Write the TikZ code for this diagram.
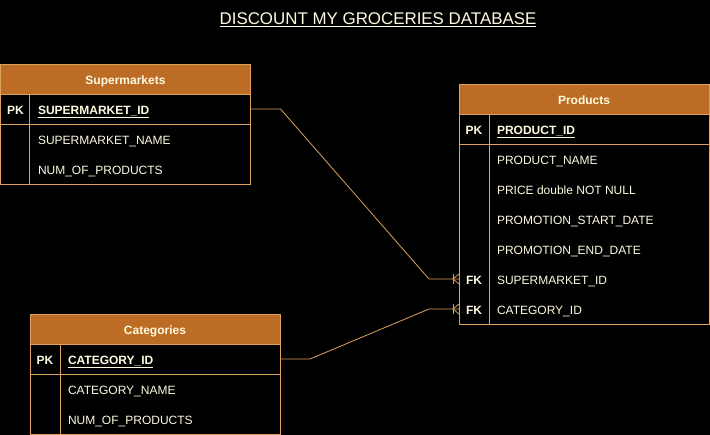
\documentclass[tikz,border=0pt]{standalone}
\usepackage{fontspec}
\setmainfont{Liberation Sans}
\usetikzlibrary{calc}
\definecolor{hdr}{HTML}{BC6C25}
\definecolor{edge}{HTML}{DDA15E}
\definecolor{txt}{HTML}{FEFAE0}
\begin{document}
\begin{tikzpicture}[x=1pt,y=-1pt,
  every node/.style={inner sep=0pt, outer sep=0pt, text=txt, font=\fontsize{12}{14}\selectfont},
  hdrbox/.style={draw=edge, fill=hdr, line width=0.8pt, minimum width=250pt, minimum height=30pt, text height=10.6pt, text depth=0pt, font=\bfseries\fontsize{12}{14}\selectfont},
  framebox/.style={draw=edge, line width=0.8pt, minimum width=250pt},
  keytxt/.style={font=\bfseries\fontsize{12}{14}\selectfont, text height=10.6pt, text depth=0pt},
  fieldtxt/.style={anchor=west, text height=10.6pt, text depth=0pt},
  pkfield/.style={fieldtxt, font=\bfseries\fontsize{12}{14}\selectfont},
  conn/.style={draw=edge, line width=0.8pt}]
\fill[black] (0,0) rectangle (710,435);
\useasboundingbox (0,0) rectangle (710,435);

% Title
\node[text height=12pt, text depth=0pt] (title) at (378,19) {\fontsize{16.9}{19}\selectfont\underline{DISCOUNT MY GROCERIES DATABASE}};

% Supermarkets
\node[hdrbox] (smh) at (125.5,79) {Supermarkets};
\node[framebox, minimum height=30pt] (smpk) at (125.5,109) {};
\node[framebox, minimum height=60pt] (smbody) at (125.5,154) {};
\draw[conn] ($(smpk.north west)+(29,0)$) -- ($(smbody.south west)+(29,0)$);
\node[keytxt] (smk) at (15.5,109) {PK};
\node[pkfield] (smf1) at (38,109) {\underline{SUPERMARKET\_ID}};
\node[fieldtxt] (smf2) at (38,139) {SUPERMARKET\_NAME};
\node[fieldtxt] (smf3) at (38,169) {NUM\_OF\_PRODUCTS};

% Products
\node[hdrbox] (ph) at (584,99) {Products};
\node[framebox, minimum height=30pt] (ppk) at (584,129) {};
\node[framebox, minimum height=180pt] (pbody) at (584,234) {};
\draw[conn] ($(ppk.north west)+(30,0)$) -- ($(pbody.south west)+(30,0)$);
\node[keytxt] (pk) at (474,129) {PK};
\node[pkfield] (pf1) at (497,129) {\underline{PRODUCT\_ID}};
\node[fieldtxt] (pf2) at (497,159) {PRODUCT\_NAME};
\node[fieldtxt] (pf3) at (497,189) {PRICE double NOT NULL};
\node[fieldtxt] (pf4) at (497,219) {PROMOTION\_START\_DATE};
\node[fieldtxt] (pf5) at (497,249) {PROMOTION\_END\_DATE};
\node[keytxt] (pfk1) at (474,279) {FK};
\node[fieldtxt] (pf6) at (497,279) {SUPERMARKET\_ID};
\node[keytxt] (pfk2) at (474,309) {FK};
\node[fieldtxt] (pf7) at (497,309) {CATEGORY\_ID};

% Categories
\node[hdrbox] (ch) at (155,329) {Categories};
\node[framebox, minimum height=30pt] (cpk) at (155,359) {};
\node[framebox, minimum height=60pt] (cbody) at (155,404) {};
\draw[conn] ($(cpk.north west)+(30,0)$) -- ($(cbody.south west)+(30,0)$);
\node[keytxt] (ck) at (45,359) {PK};
\node[pkfield] (cf1) at (68,359) {\underline{CATEGORY\_ID}};
\node[fieldtxt] (cf2) at (68,389) {CATEGORY\_NAME};
\node[fieldtxt] (cf3) at (68,419) {NUM\_OF\_PRODUCTS};

% Connectors
\coordinate (e1) at (pbody.west |- pfk1);
\coordinate (e2) at (pbody.west |- pfk2);
\draw[conn] (smpk.east) -- ++(30,0) -- ($(e1)+(-30,0)$) -- (e1);
\draw[conn] (cpk.east) -- ++(30,0) -- ($(e2)+(-30,0)$) -- (e2);
\foreach \e in {e1,e2}{
  \draw[conn] ($(\e)+(-6,-5)$) -- ($(\e)+(-6,5)$);
  \draw[conn] ($(\e)+(0,-5)$) -- ($(\e)+(-6,0)$) -- ($(\e)+(0,5)$);
}
\end{tikzpicture}
\end{document}
